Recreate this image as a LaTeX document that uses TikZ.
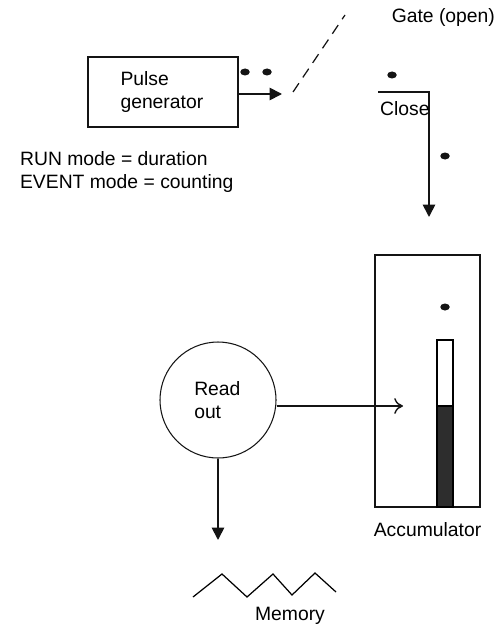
\documentclass[tikz,border=0pt]{standalone}
\usepackage{fontspec}
\setmainfont{Liberation Sans}
\usepackage{tikz}
\usetikzlibrary{arrows.meta, positioning, calc}
\definecolor{mydark}{RGB}{20,20,20}
\definecolor{mybar}{RGB}{45,45,45}
\tikzset{
  block/.style={rectangle, draw=mydark, line width=0.7pt, align=left,
    font=\fontsize{11}{13}\selectfont},
  roundblock/.style={circle, draw=mydark, line width=0.6pt, align=left,
    font=\fontsize{11}{13}\selectfont},
  lbl/.style={font=\fontsize{11}{13}\selectfont, inner sep=1pt},
  arrow/.style={-{Triangle[length=7pt, width=7pt]}, line width=1pt, color=mydark},
  openarrow/.style={-{To[length=5pt, width=9pt]}, line width=0.8pt, color=mydark},
  line/.style={line width=0.9pt, color=mydark},
  pulse/.style={fill=mydark}
}

\begin{document}
\begin{tikzpicture}[x=0.02cm, y=-0.02cm]
  \useasboundingbox (0,0) rectangle (500,625);

  % Pulse generator and gate
  \node[block, minimum width=3cm, minimum height=1.4cm, text width=1.7cm] (pulsegen) at (163,92) {Pulse\\generator};
  \coordinate (gatein) at (282,94);
  \coordinate (gatepivot) at (293,92);
  \coordinate (gatetip) at (345,15);
  \draw[arrow] (pulsegen.east |- gatein) -- (gatein);
  \draw[line, dashed, dash pattern=on 6pt off 4pt, line width=0.7pt] (gatepivot) -- (gatetip);
  \node[lbl, anchor=east] (gatelbl) at (497,18) {Gate (open)};
  \fill[pulse] (245,72) ellipse [x radius=0.095cm, y radius=0.07cm];
  \fill[pulse] (267,72) ellipse [x radius=0.095cm, y radius=0.07cm];

  % Closed contact down to the accumulator
  \coordinate (closeleft) at (378,92);
  \coordinate (closecorner) at (429,92);
  \coordinate (accin) at (429,217);
  \draw[arrow] (closeleft) -- (closecorner) -- (accin);
  \node[lbl, anchor=north west] (closelbl) at (378,99) {Close};
  \fill[pulse] (392,75) ellipse [x radius=0.095cm, y radius=0.07cm];
  \fill[pulse] (445,156) ellipse [x radius=0.095cm, y radius=0.07cm];

  % Modes
  \node[lbl, anchor=west, align=left] (modes) at (18,172) {RUN mode = duration\\EVENT mode = counting};

  % Accumulator with its level bar
  \node[rectangle, draw=mydark, line width=0.7pt, minimum width=2.1cm, minimum height=5.04cm] (accum) at (427.5,381) {};
  \node[lbl, below=0.25cm of accum] (acclbl) {Accumulator};
  \fill[pulse] (445,307) ellipse [x radius=0.095cm, y radius=0.07cm];
  \draw[line width=0.6pt, fill=white] (437,340) rectangle (453,406);
  \fill[mybar] (437,406) rectangle (453,507);
  \draw[line width=0.6pt] (437,406) rectangle (453,507);

  % Read out and memory
  \node[roundblock, minimum size=2.32cm, text width=0.95cm] (readout) at (218,400) {Read\\out};
  \coordinate (accmark) at (403,406);
  \draw[openarrow] (readout.east |- accmark) -- (accmark);
  \coordinate (memtop) at (218,540);
  \draw[arrow] (readout.south) -- (memtop);
  \draw[line width=0.7pt] (193,597) -- (222,574) -- (247,597) -- (273,574) -- (292,595) -- (315,573) -- (336,592);
  \node[lbl] (memlbl) at (290,616) {Memory};
\end{tikzpicture}
\end{document}
